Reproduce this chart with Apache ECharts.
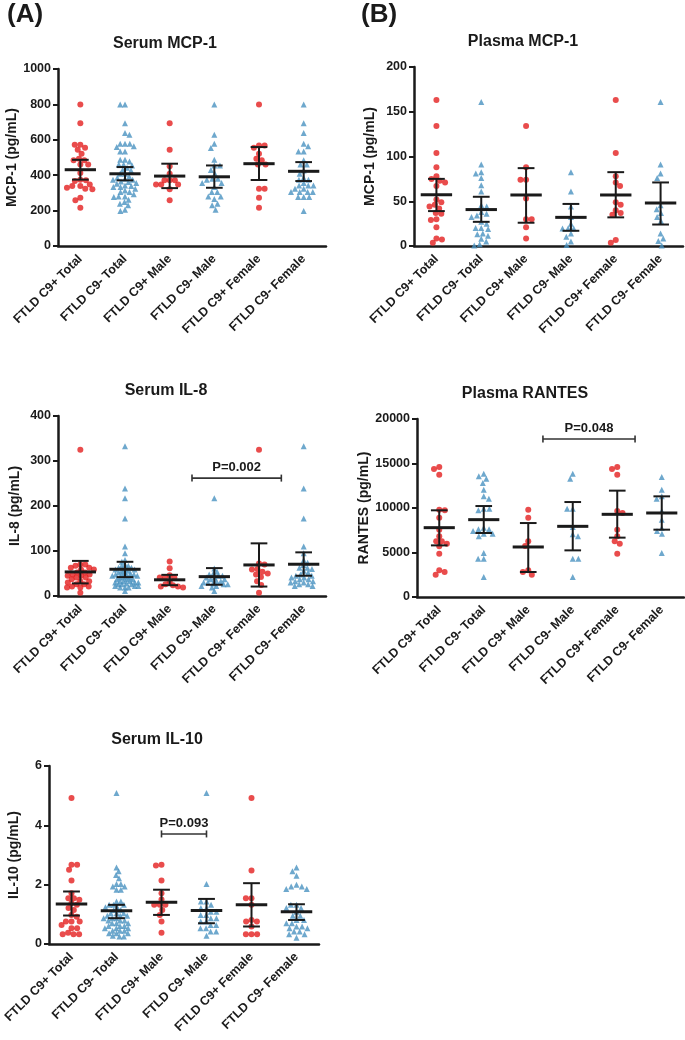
<!DOCTYPE html>
<html><head><meta charset="utf-8">
<script src="https://cdn.jsdelivr.net/npm/echarts@6/dist/echarts.min.js"></script>
<style>html,body{margin:0;padding:0;background:#fff}#c{width:685px;height:1040px}</style>
</head><body><div id="c"></div>
<script>
// ---------------- DATA ----------------
const categories = ['FTLD C9+ Total','FTLD C9- Total','FTLD C9+ Male','FTLD C9- Male','FTLD C9+ Female','FTLD C9- Female'];

// Serum MCP-1 (pg/mL)
const serumMcp1Ticks = [0, 200, 400, 600, 800, 1000];
const serumMcp1Values = [
  [800, 694, 572, 572, 555, 544, 521, 493, 484, 484, 461, 461, 412, 374, 371, 367, 348, 339, 339, 329, 324, 320, 273, 258, 216],
  [800, 800, 694, 638, 628, 578, 578, 578, 563, 559, 534, 534, 487, 487, 478, 461, 461, 455, 442, 431, 427, 408, 408, 393, 386, 380, 374, 374, 365, 361, 356, 352, 342, 339, 333, 333, 324, 314, 305, 305, 292, 280, 280, 277, 262, 248, 239, 230, 205, 198],
  [694, 544, 450, 408, 371, 371, 371, 348, 348, 348, 320, 258],
  [800, 628, 578, 553, 487, 455, 455, 430, 408, 380, 380, 374, 356, 356, 333, 305, 305, 280, 280, 265, 239, 230, 205],
  [800, 568, 568, 555, 521, 493, 484, 461, 461, 324, 324, 273, 216],
  [800, 694, 638, 578, 563, 534, 534, 484, 461, 461, 427, 408, 386, 374, 374, 356, 342, 342, 342, 324, 324, 305, 305, 305, 305, 277, 277, 277, 198]
];
const serumMcp1Mean = [431, 408, 395, 391, 465, 422];
const serumMcp1Lo   = [375, 371, 327, 329, 373, 367];
const serumMcp1Hi   = [487, 446, 465, 455, 559, 474];

// Plasma MCP-1 (pg/mL)
const plasmaMcp1Ticks = [0, 50, 100, 150, 200];
const plasmaMcp1Values = [
  [163, 134, 104, 88, 78, 75, 73, 71, 67, 52, 49, 46, 44, 42, 37, 36, 30, 29, 21, 8.5, 7.4, 3.7],
  [161, 91, 82.5, 81, 76, 68, 61, 45.5, 44, 38, 36, 34, 32.5, 27, 25, 20, 20, 19, 14, 13, 11.5, 8, 5, 2, 0.5],
  [134, 88, 74, 74, 53, 30, 30, 21, 8.5],
  [82.5, 61, 44, 32.5, 25, 19.6, 19.6, 19.6, 14, 10.4, 5, 1],
  [163, 104, 78, 71, 67, 49, 46, 40, 37, 35, 6.7, 3.7],
  [161, 91, 81, 76, 45.5, 41, 37, 32.5, 28, 14, 8.5, 5.5, 0.5]
];
const plasmaMcp1Mean = [57.4, 40.7, 57, 32, 57, 48];
const plasmaMcp1Lo   = [39, 27, 26, 17, 32, 24];
const plasmaMcp1Hi   = [75, 55, 87, 47, 82.5, 71];

// Serum IL-8 (pg/mL)
const serumIl8Ticks = [0, 100, 200, 300, 400];
const serumIl8Values = [
  [325, 70, 70, 67, 63, 63, 59, 59, 52, 52, 48, 48, 45, 45, 41, 41, 37, 33, 33, 30, 26, 26, 21, 21, 19, 19, 7.4],
  [333, 239, 217, 172, 110, 95, 80, 76, 70, 67, 67, 63, 63, 60, 59, 59, 56, 56, 52, 52, 50, 48, 48, 48, 45, 45, 45, 41, 41, 41, 37, 37, 37, 33, 33, 33, 30, 30, 30, 28, 26, 26, 26, 22, 22, 22, 19, 19, 19, 11],
  [76.5, 61.7, 46, 41, 41, 41, 33, 26, 24, 21, 21, 19],
  [217, 61, 54, 50, 48, 45, 45, 41, 41, 37, 37, 33, 33, 30, 30, 28, 26, 26, 22, 22, 19, 11],
  [325, 72, 70, 60, 59, 54, 50, 48, 42, 33, 24.5, 7.4],
  [333, 239, 172, 110, 95, 80, 74, 69, 63, 63, 60, 56, 52, 48, 45, 45, 41, 41, 37, 37, 33, 33, 30, 30, 26, 26, 22, 22]
];
const serumIl8Mean = [53.5, 59.4, 36, 43, 69, 70.6];
const serumIl8Lo   = [28, 42, 24, 25, 21, 45];
const serumIl8Hi   = [78, 76, 47, 62, 117, 97];
const serumIl8Bracket = [[2.5, 4.5, 262]];
const serumIl8BracketLabel = ['P=0.002'];

// Plasma RANTES (pg/mL)
const plasmaRantesTicks = [0, 5000, 10000, 15000, 20000];
const plasmaRantesValues = [
  [14600, 14380, 13745, 9810, 9740, 8910, 7565, 6815, 6255, 6255, 5990, 5690, 4870, 2995, 2810, 2510],
  [13860, 13560, 13300, 12810, 12060, 11310, 11050, 9925, 9925, 9740, 7790, 7600, 7600, 7415, 7115, 7115, 6815, 4940, 4310, 4310, 2250],
  [9810, 8910, 6255, 5730, 2995, 2810, 2510],
  [13860, 13300, 9925, 9925, 7865, 7040, 6815, 4310, 4310, 2250],
  [14600, 14380, 13745, 9660, 9440, 7565, 6815, 6255, 5990, 4870],
  [13480, 12060, 11310, 11050, 9660, 8690, 7750, 7415, 7115, 4940]
];
const plasmaRantesMean = [7790, 8690, 5620, 7940, 9290, 9440];
const plasmaRantesLo   = [5800, 7190, 2810, 5240, 6670, 7565];
const plasmaRantesHi   = [9740, 10220, 8310, 10670, 11950, 11310];
const plasmaRantesBracket = [[2.33, 4.4, 17750]];
const plasmaRantesBracketLabel = ['P=0.048'];

// Serum IL-10 (pg/mL)
const serumIl10Ticks = [0, 2, 4, 6];
const serumIl10Values = [
  [4.92, 2.67, 2.67, 2.5, 2.14, 1.71, 1.54, 1.54, 1.49, 1.37, 1.32, 1.21, 1.15, 0.98, 0.92, 0.76, 0.76, 0.76, 0.64, 0.53, 0.53, 0.38, 0.33, 0.33, 0.33],
  [5.09, 2.58, 2.45, 2.33, 2.22, 2.02, 2.02, 1.94, 1.94, 1.83, 1.83, 1.43, 1.43, 1.32, 1.32, 1.32, 1.24, 1.24, 1.15, 1.15, 1.04, 1.04, 1.04, 0.95, 0.95, 0.95, 0.87, 0.87, 0.87, 0.79, 0.79, 0.79, 0.70, 0.70, 0.70, 0.61, 0.61, 0.61, 0.53, 0.53, 0.53, 0.45, 0.45, 0.45, 0.36, 0.36, 0.36, 0.28, 0.25, 0.25],
  [2.67, 2.65, 2.14, 1.71, 1.5, 1.32, 1.32, 1.32, 1.15, 0.98, 0.76, 0.38],
  [5.09, 2.02, 1.43, 1.43, 1.32, 1.21, 1.21, 1.09, 1.09, 0.98, 0.98, 0.87, 0.87, 0.76, 0.76, 0.64, 0.64, 0.53, 0.53, 0.42, 0.42, 0.28],
  [4.92, 2.48, 1.54, 1.54, 1.32, 0.81, 0.76, 0.76, 0.59, 0.33, 0.33, 0.33],
  [2.58, 2.45, 2.30, 2.0, 1.94, 1.94, 1.85, 1.85, 1.32, 1.32, 1.21, 1.21, 1.09, 0.95, 0.95, 0.81, 0.81, 0.70, 0.70, 0.59, 0.59, 0.53, 0.53, 0.42, 0.42, 0.33, 0.33, 0.21]
];
const serumIl10Mean = [1.35, 1.12, 1.41, 1.13, 1.32, 1.09];
const serumIl10Lo   = [0.96, 0.87, 0.98, 0.70, 0.59, 0.81];
const serumIl10Hi   = [1.77, 1.32, 1.83, 1.52, 2.05, 1.34];
const serumIl10Bracket = [[2, 3, 3.71]];
const serumIl10BracketLabel = ['P=0.093'];

// ---------------- LAYOUT / STYLE ----------------
const FONT = '"Liberation Sans", Arial, Helvetica, sans-serif';
const INK = '#1a1a1a';
const RED = '#e41f1f';
const BLUE = '#4a92c1';

const panels = [
  {title:'Serum MCP-1', yName:'MCP-1 (pg/mL)', ticks:serumMcp1Ticks, values:serumMcp1Values, mean:serumMcp1Mean, lo:serumMcp1Lo, hi:serumMcp1Hi,
   grid:{left:58, top:69, width:268, height:177}, nameGap:36, tx:165, ty:44},
  {title:'Plasma MCP-1', yName:'MCP-1 (pg/mL)', ticks:plasmaMcp1Ticks, values:plasmaMcp1Values, mean:plasmaMcp1Mean, lo:plasmaMcp1Lo, hi:plasmaMcp1Hi,
   grid:{left:414, top:67, width:269, height:179}, nameGap:37, tx:523, ty:42},
  {title:'Serum IL-8', yName:'IL-8 (pg/mL)', ticks:serumIl8Ticks, values:serumIl8Values, mean:serumIl8Mean, lo:serumIl8Lo, hi:serumIl8Hi,
   grid:{left:58, top:416, width:268, height:180}, nameGap:36, tx:166, ty:391, bracket:serumIl8Bracket, bracketLabel:serumIl8BracketLabel},
  {title:'Plasma RANTES', yName:'RANTES (pg/mL)', ticks:plasmaRantesTicks, values:plasmaRantesValues, mean:plasmaRantesMean, lo:plasmaRantesLo, hi:plasmaRantesHi,
   grid:{left:417, top:419, width:267, height:178}, nameGap:35, tx:525, ty:394, bracket:plasmaRantesBracket, bracketLabel:plasmaRantesBracketLabel},
  {title:'Serum IL-10', yName:'IL-10 (pg/mL)', ticks:serumIl10Ticks, values:serumIl10Values, mean:serumIl10Mean, lo:serumIl10Lo, hi:serumIl10Hi,
   grid:{left:49, top:766, width:270, height:178}, nameGap:28, tx:157, ty:740, bracket:serumIl10Bracket, bracketLabel:serumIl10BracketLabel}
];

// beeswarm placement (layout only: spreads equal/near values sideways)
function swarmPx(vals, pxPerUnit, D) {
  const order = vals.map((v, i) => i).sort((a, b) => vals[b] - vals[a]);
  const placed = [];
  const xs = new Array(vals.length);
  let flip = 1;
  order.forEach(i => {
    const y = vals[i] * pxPerUnit;
    const blocks = [];
    placed.forEach(p => {
      const dy = Math.abs(p.y - y);
      if (dy < D) { const dx = Math.sqrt(D * D - dy * dy); blocks.push([p.x - dx, p.x + dx]); }
    });
    const cands = [0];
    blocks.forEach(b => cands.push(b[0], b[1]));
    const ok = c => blocks.every(b => c <= b[0] + 1e-6 || c >= b[1] - 1e-6);
    let best = null;
    cands.filter(ok).forEach(c => {
      if (best === null || Math.abs(c) < Math.abs(best) - 1e-6 ||
          (Math.abs(Math.abs(c) - Math.abs(best)) < 1e-6 && c * flip > 0)) best = c;
    });
    flip = -flip;
    placed.push({x: best, y: y});
    xs[i] = best;
  });
  return xs;
}
function swarm(vals, center, pxPerUnit, pxPerCat) {
  const maxHalf = 0.31 * pxPerCat;
  let D = 5.6, xs = swarmPx(vals, pxPerUnit, D);
  while (Math.max(...xs.map(Math.abs)) > maxHalf && D > 3) {
    D -= 0.2;
    xs = swarmPx(vals, pxPerUnit, D);
  }
  return vals.map((v, i) => [center + xs[i] / pxPerCat, v]);
}

function errRender(params, api) {
  const i = api.value(0), m = api.value(1), lo = api.value(2), hi = api.value(3);
  const cm = api.coord([i, m]), cl = api.coord([i, lo]), ch = api.coord([i, hi]);
  const w = api.size([1, 0])[0];
  const x = cm[0];
  const st = {stroke: INK, lineWidth: 2};
  return {type: 'group', children: [
    {type: 'line', shape: {x1: x, y1: ch[1], x2: x, y2: cl[1]}, style: st},
    {type: 'line', shape: {x1: x - 0.187 * w, y1: ch[1], x2: x + 0.187 * w, y2: ch[1]}, style: st},
    {type: 'line', shape: {x1: x - 0.187 * w, y1: cl[1], x2: x + 0.187 * w, y2: cl[1]}, style: st},
    {type: 'line', shape: {x1: x - 0.35 * w, y1: cm[1], x2: x + 0.35 * w, y2: cm[1]}, style: {stroke: INK, lineWidth: 3}}
  ]};
}

function bracketRender(labels) {
  return function (params, api) {
    const y = api.value(2);
    const a = api.coord([api.value(0), y]), b = api.coord([api.value(1), y]);
    const st = {stroke: '#333', lineWidth: 1.6};
    return {type: 'group', children: [
      {type: 'line', shape: {x1: a[0], y1: a[1], x2: b[0], y2: b[1]}, style: st},
      {type: 'line', shape: {x1: a[0], y1: a[1] - 3.5, x2: a[0], y2: a[1] + 3.5}, style: st},
      {type: 'line', shape: {x1: b[0], y1: b[1] - 3.5, x2: b[0], y2: b[1] + 3.5}, style: st},
      {type: 'text', x: (a[0] + b[0]) / 2, y: a[1] - 11,
       style: {text: labels[params.dataIndex], fill: INK, font: 'bold 13px ' + FONT, align: 'center', verticalAlign: 'middle', textAlign: 'center', textVerticalAlign: 'middle'}}
    ]};
  };
}

const option = {
  backgroundColor: '#fff',
  animation: false,
  grid: [], xAxis: [], yAxis: [], series: [],
  graphic: [
    {type: 'text', x: 7, y: 15, style: {text: '(A)', fill: INK, font: 'bold 26px ' + FONT, verticalAlign: 'middle', textVerticalAlign: 'middle'}},
    {type: 'text', x: 361, y: 15, style: {text: '(B)', fill: INK, font: 'bold 26px ' + FONT, verticalAlign: 'middle', textVerticalAlign: 'middle'}}
  ]
};

panels.forEach((p, k) => {
  const g = p.grid;
  option.grid.push({left: g.left, top: g.top, width: g.width, height: g.height, containLabel: false});
  const ymin = p.ticks[0], ymax = p.ticks[p.ticks.length - 1], step = p.ticks[1] - p.ticks[0];
  option.xAxis.push({
    type: 'category', gridIndex: k, data: categories, boundaryGap: true,
    axisLine: {onZero: false, lineStyle: {color: INK, width: 2.5}},
    axisTick: {alignWithLabel: true, length: 5, lineStyle: {color: INK, width: 2}},
    axisLabel: {rotate: 45, margin: 11, color: INK, fontFamily: FONT, fontWeight: 'bold', fontSize: 12.5, interval: 0},
    splitLine: {show: false}
  });
  option.xAxis.push({type: 'value', gridIndex: k, min: -0.5, max: 5.5, show: false});
  option.yAxis.push({
    type: 'value', gridIndex: k, min: ymin, max: ymax, interval: step,
    name: p.yName, nameLocation: 'middle', nameGap: p.nameGap,
    nameTextStyle: {color: INK, fontFamily: FONT, fontWeight: 'bold', fontSize: 14},
    axisLine: {show: true, onZero: false, lineStyle: {color: INK, width: 2.5}},
    axisTick: {show: true, length: 5, lineStyle: {color: INK, width: 2}},
    axisLabel: {margin: 7, color: INK, fontFamily: FONT, fontWeight: 'bold', fontSize: 12.5, formatter: v => String(v)},
    splitLine: {show: false}
  });
  const pxPerUnit = g.height / (ymax - ymin);
  const pxPerCat = g.width / categories.length;
  const redPts = [], bluePts = [];
  p.values.forEach((vals, gi) => {
    const pts = swarm(vals, gi, pxPerUnit, pxPerCat);
    if (gi % 2 === 0) redPts.push(...pts); else bluePts.push(...pts);
  });
  option.series.push({type: 'scatter', xAxisIndex: 2 * k + 1, yAxisIndex: k, data: redPts, symbol: 'circle', symbolSize: 6,
    itemStyle: {color: RED}, z: 2, clip: false, silent: true});
  option.series.push({type: 'scatter', xAxisIndex: 2 * k + 1, yAxisIndex: k, data: bluePts, symbol: 'triangle', symbolSize: 6,
    itemStyle: {color: BLUE}, z: 2, clip: false, silent: true});
  option.series.push({type: 'custom', xAxisIndex: 2 * k + 1, yAxisIndex: k, renderItem: errRender, z: 4, clip: false, silent: true,
    data: p.mean.map((m, i) => [i, m, p.lo[i], p.hi[i]])});
  if (p.bracket) {
    option.series.push({type: 'custom', xAxisIndex: 2 * k + 1, yAxisIndex: k, renderItem: bracketRender(p.bracketLabel), z: 4, clip: false, silent: true,
      data: p.bracket});
  }
  option.graphic.push({type: 'text', x: p.tx, y: p.ty, style: {text: p.title, fill: INK, font: 'bold 16px ' + FONT, align: 'center', verticalAlign: 'middle', textAlign: 'center', textVerticalAlign: 'middle'}});
});

const chart = echarts.init(document.getElementById('c'), null, {renderer: 'canvas'});
chart.setOption(option);
</script>
</body></html>
